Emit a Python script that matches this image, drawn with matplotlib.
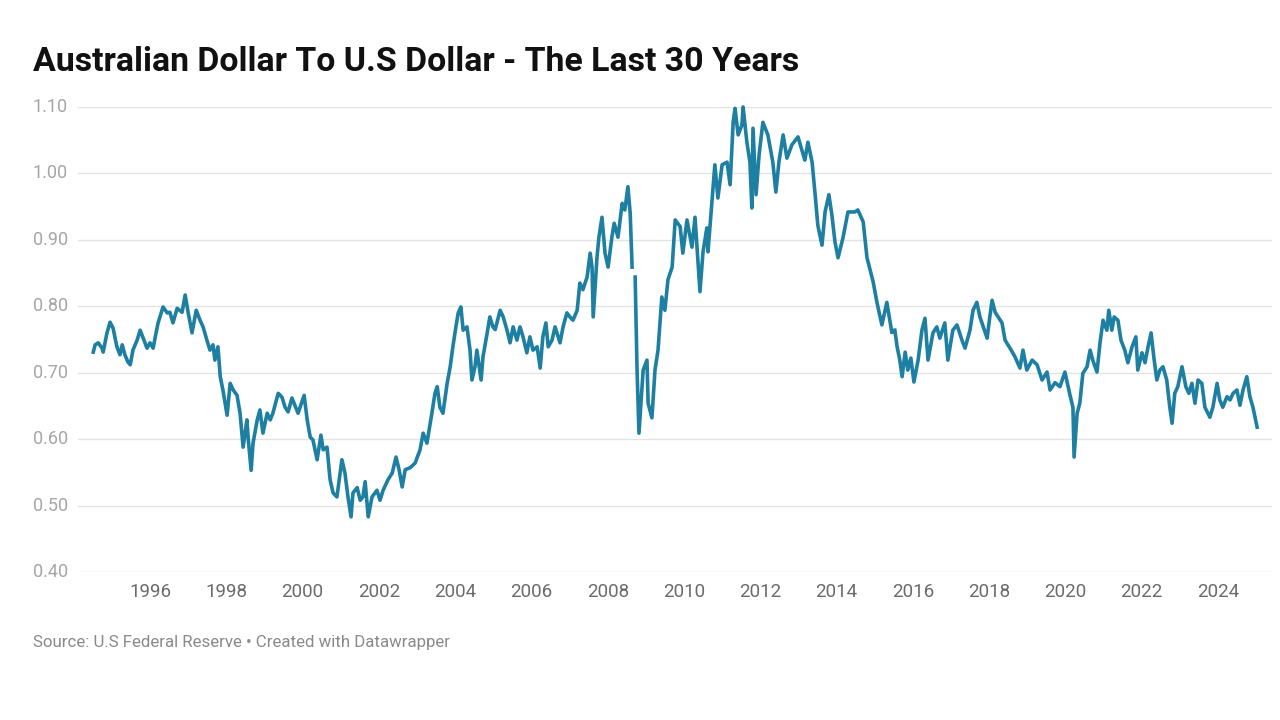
import matplotlib
matplotlib.use("Agg")
import matplotlib.pyplot as plt
import matplotlib.transforms as mtransforms
import numpy as np

# AUD/USD readings (fractional year, rate), nan = gap in the source series
dates = [
    1994.51, 1994.56, 1994.64, 1994.74, 1994.77, 1994.87, 1994.95,
    1995.03, 1995.13, 1995.21, 1995.27, 1995.34, 1995.42, 1995.48, 1995.55, 1995.66, 1995.74, 1995.82, 1995.92,
    1996.00, 1996.08, 1996.13, 1996.21, 1996.34, 1996.45, 1996.52, 1996.60, 1996.71, 1996.84, 1996.92,
    1997.00, 1997.10, 1997.21, 1997.31, 1997.39, 1997.49, 1997.57, 1997.65, 1997.70, 1997.78, 1997.84, 1997.91,
    1998.02, 1998.10, 1998.18, 1998.28, 1998.36, 1998.44, 1998.54, 1998.57, 1998.65, 1998.70, 1998.81, 1998.88, 1998.96,
    1999.07, 1999.15, 1999.22, 1999.36, 1999.46, 1999.54, 1999.62, 1999.72, 1999.88,
    2000.04, 2000.12, 2000.20, 2000.27, 2000.38, 2000.48, 2000.54, 2000.64, 2000.72, 2000.80, 2000.90,
    2001.03, 2001.11, 2001.19, 2001.27, 2001.32, 2001.43, 2001.51, 2001.58, 2001.64, 2001.72, 2001.82, 2001.95,
    2002.03, 2002.11, 2002.24, 2002.35, 2002.45, 2002.53, 2002.61, 2002.69, 2002.82, 2002.95,
    2003.08, 2003.16, 2003.26, 2003.39, 2003.47, 2003.53, 2003.60, 2003.68, 2003.79, 2003.87, 2003.94,
    2004.02, 2004.08, 2004.15, 2004.21, 2004.31, 2004.39, 2004.44, 2004.52, 2004.57, 2004.68, 2004.73, 2004.84, 2004.91, 2004.99,
    2005.05, 2005.18, 2005.26, 2005.36, 2005.44, 2005.52, 2005.62, 2005.70, 2005.78, 2005.88, 2005.96,
    2006.04, 2006.15, 2006.23, 2006.30, 2006.38, 2006.44, 2006.54, 2006.62, 2006.75, 2006.83, 2006.93,
    2007.01, 2007.09, 2007.20, 2007.27, 2007.35, 2007.46, 2007.54, 2007.59, 2007.62, 2007.72, 2007.77, 2007.85, 2007.93,
    2008.01, 2008.11, 2008.17, 2008.27, 2008.38, 2008.45, 2008.53, 2008.59, 2008.64, 2008.68, 2008.72, 2008.77, 2008.82, 2008.93,
    2009.03, 2009.06, 2009.16, 2009.24, 2009.32, 2009.42, 2009.50, 2009.58, 2009.69, 2009.77, 2009.90, 2009.97,
    2010.08, 2010.21, 2010.29, 2010.42, 2010.50, 2010.60, 2010.63, 2010.74, 2010.81, 2010.89,
    2011.00, 2011.13, 2011.21, 2011.29, 2011.34, 2011.42, 2011.52, 2011.55, 2011.65, 2011.73, 2011.78, 2011.81, 2011.89, 2011.97,
    2012.07, 2012.20, 2012.33, 2012.41, 2012.49, 2012.60, 2012.70, 2012.83, 2012.99,
    2013.17, 2013.25, 2013.36, 2013.44, 2013.51, 2013.62, 2013.70, 2013.80, 2013.88, 2013.96,
    2014.04, 2014.17, 2014.30, 2014.48, 2014.56, 2014.70, 2014.80, 2014.96,
    2015.06, 2015.19, 2015.32, 2015.45, 2015.50, 2015.53, 2015.59, 2015.66, 2015.72, 2015.80, 2015.87, 2015.95,
    2016.03, 2016.14, 2016.24, 2016.32, 2016.40, 2016.53, 2016.63, 2016.71, 2016.84, 2016.92,
    2017.05, 2017.16, 2017.29, 2017.37, 2017.50, 2017.58, 2017.68, 2017.76, 2017.95,
    2018.02, 2018.08, 2018.16, 2018.34, 2018.42, 2018.55, 2018.68, 2018.81, 2018.89, 2018.99,
    2019.13, 2019.26, 2019.39, 2019.52, 2019.60, 2019.73, 2019.86, 2019.99,
    2020.12, 2020.20, 2020.23, 2020.31, 2020.38, 2020.46, 2020.57, 2020.65, 2020.72, 2020.83, 2020.91, 2020.99,
    2021.09, 2021.14, 2021.22, 2021.28, 2021.38, 2021.46, 2021.56, 2021.64, 2021.75, 2021.85, 2021.90,
    2022.01, 2022.09, 2022.17, 2022.25, 2022.32, 2022.40, 2022.48, 2022.56, 2022.66, 2022.74, 2022.80, 2022.87, 2022.95,
    2023.06, 2023.16, 2023.24, 2023.32, 2023.40, 2023.48, 2023.58, 2023.66, 2023.79, 2023.87, 2023.98,
    2024.05, 2024.13, 2024.24, 2024.32, 2024.40, 2024.50, 2024.58, 2024.66, 2024.76, 2024.84, 2024.92, 2025.03,
]
rates = [
    0.731, 0.742, 0.745, 0.737, 0.731, 0.760, 0.776,
    0.767, 0.739, 0.727, 0.742, 0.727, 0.716, 0.712, 0.734, 0.749, 0.764, 0.752, 0.737,
    0.745, 0.737, 0.752, 0.775, 0.799, 0.790, 0.791, 0.775, 0.797, 0.791, 0.817,
    0.790, 0.760, 0.794, 0.779, 0.769, 0.749, 0.734, 0.742, 0.719, 0.739, 0.694, 0.674,
    0.636, 0.684, 0.674, 0.666, 0.639, 0.588, 0.629, 0.603, 0.553, 0.594, 0.629, 0.644, 0.609,
    0.639, 0.629, 0.639, 0.669, 0.663, 0.648, 0.641, 0.662, 0.639,
    0.666, 0.629, 0.603, 0.599, 0.569, 0.606, 0.584, 0.588, 0.539, 0.519, 0.513,
    0.569, 0.549, 0.513, 0.483, 0.519, 0.527, 0.508, 0.513, 0.536, 0.483, 0.513, 0.523,
    0.508, 0.523, 0.539, 0.549, 0.573, 0.554, 0.528, 0.554, 0.557, 0.564,
    0.584, 0.609, 0.594, 0.639, 0.669, 0.679, 0.648, 0.639, 0.684, 0.709, 0.739,
    0.769, 0.790, 0.799, 0.764, 0.769, 0.734, 0.689, 0.709, 0.734, 0.689, 0.724, 0.760, 0.784, 0.769,
    0.765, 0.794, 0.784, 0.764, 0.745, 0.769, 0.749, 0.769, 0.754, 0.730, 0.754,
    0.734, 0.739, 0.707, 0.754, 0.775, 0.739, 0.749, 0.769, 0.745, 0.769, 0.790,
    0.784, 0.779, 0.794, 0.835, 0.825, 0.844, 0.880, 0.859, 0.784, 0.874, 0.904, 0.934, 0.880,
    0.859, 0.904, 0.925, 0.904, 0.955, 0.945, 0.980, 0.940, 0.859, np.nan, 0.844, 0.704, 0.609, 0.704,
    0.719, 0.654, 0.632, 0.704, 0.734, 0.814, 0.794, 0.840, 0.859, 0.930, 0.920, 0.880,
    0.930, 0.889, 0.934, 0.822, 0.882, 0.918, 0.882, 0.963, 1.013, 0.963,
    1.013, 1.017, 0.983, 1.077, 1.098, 1.058, 1.073, 1.100, 1.047, 1.017, 0.948, 1.068, 0.968, 1.028,
    1.077, 1.058, 1.017, 0.972, 1.017, 1.058, 1.023, 1.043, 1.055,
    1.020, 1.047, 1.017, 0.968, 0.922, 0.892, 0.942, 0.968, 0.937, 0.897,
    0.873, 0.903, 0.942, 0.942, 0.945, 0.927, 0.873, 0.837,
    0.806, 0.772, 0.806, 0.761, np.nan, 0.764, 0.739, 0.719, 0.694, 0.731, 0.704, 0.722,
    0.686, 0.719, 0.764, 0.782, 0.719, 0.760, 0.769, 0.752, 0.775, 0.719,
    0.764, 0.772, 0.749, 0.737, 0.764, 0.794, 0.806, 0.784, 0.752,
    0.784, 0.809, 0.791, 0.775, 0.749, 0.737, 0.724, 0.707, 0.734, 0.704,
    0.719, 0.712, 0.689, 0.701, 0.674, 0.685, 0.679, 0.701,
    0.667, 0.648, 0.573, 0.639, 0.654, 0.699, 0.709, 0.734, 0.719, 0.701, 0.745, 0.779,
    0.764, 0.794, 0.764, 0.784, 0.779, 0.749, 0.734, 0.715, 0.739, 0.754, 0.704,
    0.730, 0.715, 0.739, 0.760, 0.724, 0.689, 0.704, 0.709, 0.689, 0.648, 0.624, 0.669, 0.679,
    0.709, 0.679, 0.669, 0.684, 0.654, 0.689, 0.684, 0.648, 0.633, 0.648, 0.684,
    0.659, 0.648, 0.664, 0.659, 0.669, 0.674, 0.651, 0.674, 0.694, 0.664, 0.648, 0.618,
]

year_ticks = list(range(1996, 2025, 2))
rate_ticks = [0.40, 0.50, 0.60, 0.70, 0.80, 0.90, 1.00, 1.10]

title = "Australian Dollar To U.S Dollar - The Last 30 Years"
source = "Source: U.S Federal Reserve \u2022 Created with Datawrapper"

plt.rcParams['font.family'] = ['Roboto', 'DejaVu Sans']

W, H = 1280, 720
fig = plt.figure(figsize=(12.8, 7.2), dpi=100)
fig.patch.set_facecolor('white')

ax = fig.add_axes([78 / W, 1 - 572 / H, (1272 - 78) / W, (572 - 107) / H])
ax.plot(dates, rates, color='#1d7fa1', lw=2.6, solid_joinstyle='round', clip_on=False, zorder=3)

ax.set_xlim(1994.11, 2025.42)
ax.set_ylim(0.40, 1.10)

ax.set_yticks(rate_ticks)
ax.yaxis.grid(True, color='#e3e3e3', lw=1)
ax.tick_params(axis='y', length=0, labelleft=False)
ax.set_xticks(year_ticks)
ax.set_xticklabels([str(y) for y in year_ticks], color='#6b6b6b', fontsize=13.5)
ax.tick_params(axis='x', length=0, pad=8)
for s in ax.spines.values():
    s.set_visible(False)

# y labels sit at the left margin, centred on their gridlines
trans = mtransforms.blended_transform_factory(fig.transFigure, ax.transData)
for v in rate_ticks:
    ax.text(33 / W, v, f"{v:.2f}", transform=trans, ha='left', va='center',
            color='#a6a6a6', fontsize=13)

fig.text(33 / W, 1 - 62 / H, title, ha='left', va='center', fontsize=24.4,
         fontweight='bold', color='#111111')
fig.text(33 / W, 1 - 643 / H, source, ha='left', va='center', fontsize=12.2,
         color='#8a8a8a')

fig.savefig('out.png', dpi=100, facecolor='white')
